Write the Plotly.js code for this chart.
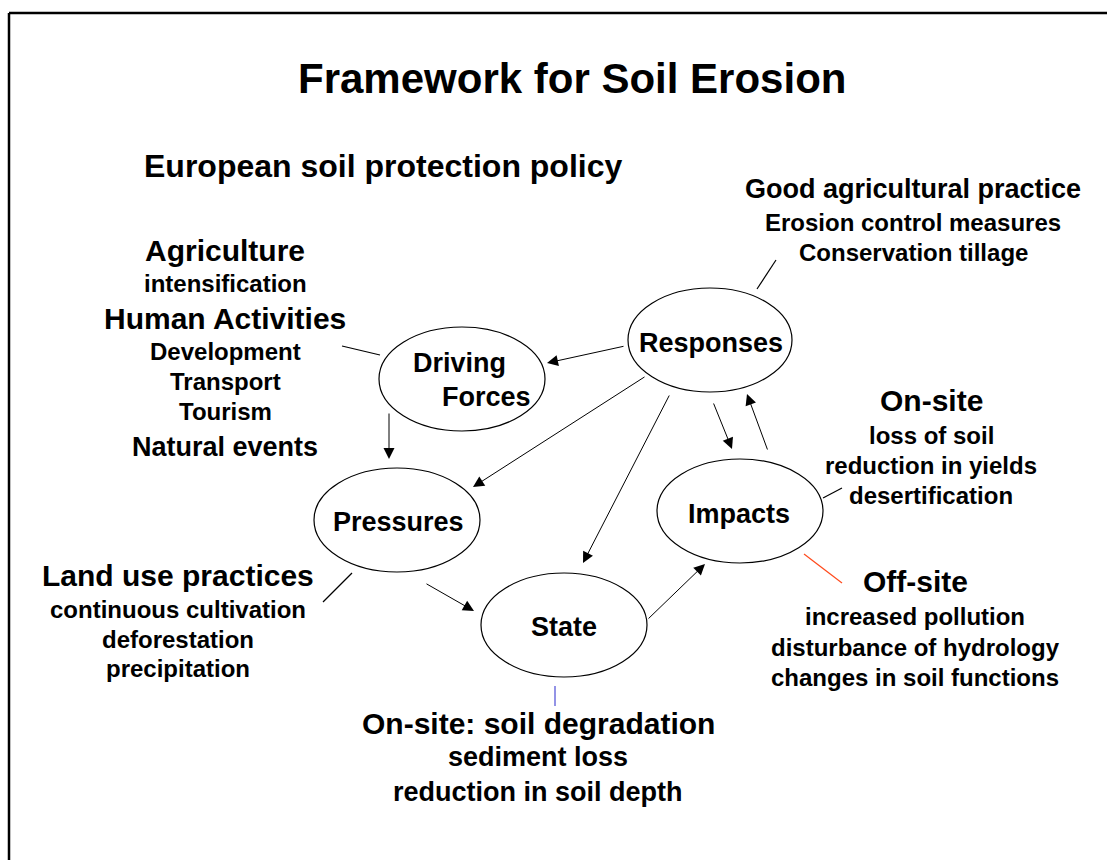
<!DOCTYPE html>
<html>
<head>
<meta charset="utf-8">
<script src="https://cdn.plot.ly/plotly-3.0.1.min.js"></script>
<style>html,body{margin:0;padding:0;background:#fff;}#chart{width:1107px;height:860px;}</style>
</head>
<body>
<div id="chart"></div>
<script>
// ---------- content ----------
const chartTitle = "Framework for Soil Erosion";
const policyTitle = "European soil protection policy";
const nodeNames = ["Driving Forces", "Pressures", "State", "Impacts", "Responses"];
const links = [
  ["Responses", "Driving Forces"],
  ["Driving Forces", "Pressures"],
  ["Responses", "Pressures"],
  ["Responses", "State"],
  ["Responses", "Impacts"],
  ["Impacts", "Responses"],
  ["Pressures", "State"],
  ["State", "Impacts"]
];
const drivingText = ["Agriculture", "intensification", "Human Activities", "Development", "Transport", "Tourism", "Natural events"];
const responsesText = ["Good agricultural practice", "Erosion control measures", "Conservation tillage"];
const impactsOnSiteText = ["On-site", "loss of soil", "reduction in yields", "desertification"];
const impactsOffSiteText = ["Off-site", "increased pollution", "disturbance of hydrology", "changes in soil functions"];
const pressuresText = ["Land use practices", "continuous cultivation", "deforestation", "precipitation"];
const stateText = ["On-site: soil degradation", "sediment loss", "reduction in soil depth"];

// ---------- geometry (pixel coordinates of the slide) ----------
const nodeGeom = {
  "Driving Forces": {cx: 462, cy: 379, rx: 83, ry: 52, lines: [[459, 363], [486, 397]]},
  "Pressures":      {cx: 397, cy: 520, rx: 83, ry: 52, lines: [[398, 522]]},
  "State":          {cx: 564, cy: 625, rx: 83, ry: 52, lines: [[564, 627]]},
  "Impacts":        {cx: 740, cy: 511, rx: 83, ry: 52, lines: [[739, 514]]},
  "Responses":      {cx: 710, cy: 340, rx: 82, ry: 52, lines: [[711, 343]]}
};
const linkGeom = [
  [625, 346, 547, 363],
  [389, 412, 389, 459],
  [646, 376, 473, 487],
  [670, 394, 583, 563],
  [713, 402, 732, 449],
  [768, 451, 747, 394],
  [425, 583, 474, 611],
  [647, 620, 705, 564]
];
const connectorGeom = [
  {x0: 342, y0: 346, x1: 380, y1: 355, color: "#000000"},
  {x0: 776, y0: 260, x1: 757, y1: 289, color: "#000000"},
  {x0: 352, y0: 573, x1: 323, y1: 602, color: "#000000"},
  {x0: 823, y0: 498, x1: 842, y1: 488, color: "#000000"},
  {x0: 804, y0: 554, x1: 842, y1: 583, color: "#ff4a1c"},
  {x0: 555, y0: 686, x1: 555, y1: 706, color: "#4b4bd6"}
];
const blocks = [
  {lines: drivingText, x: 225, ys: [250, 283, 318, 351, 381, 411, 447], sizes: [30, 24, 30, 24, 24, 24, 27]},
  {lines: responsesText, x: 913, ys: [189, 222, 252], sizes: [27, 24, 24]},
  {lines: impactsOnSiteText, x: 931, ys: [400, 435, 465, 495], sizes: [30, 24, 24, 24]},
  {lines: impactsOffSiteText, x: 915, ys: [581, 616, 647, 677], sizes: [30, 24, 24, 24]},
  {lines: pressuresText, x: 178, ys: [575, 609, 639, 668], sizes: [30, 24, 24, 24]},
  {lines: stateText, x: 538, ys: [723, 757, 792], sizes: [30, 27, 27]}
];

const FONT = "Liberation Sans, Arial, Helvetica, sans-serif";
const shapes = [];
const annotations = [];

function txt(text, x, y, size) {
  annotations.push({
    text: text, x: x, y: y, xref: "x", yref: "y",
    xanchor: "center", yanchor: "middle", showarrow: false,
    font: {family: FONT, size: size, color: "#000", weight: "bold"}
  });
}

// frame (top and left edges)
shapes.push({type: "line", xref: "x", yref: "y", x0: 9, y0: 13, x1: 1107, y1: 13, line: {color: "#000", width: 2.5}});
shapes.push({type: "line", xref: "x", yref: "y", x0: 9, y0: 13, x1: 9, y1: 860, line: {color: "#000", width: 2.5}});

// titles
txt(chartTitle, 572, 78, 42);
txt(policyTitle, 383, 166, 32);

// nodes
nodeNames.forEach(function (n) {
  const g = nodeGeom[n];
  shapes.push({type: "circle", xref: "x", yref: "y",
    x0: g.cx - g.rx, x1: g.cx + g.rx, y0: g.cy - g.ry, y1: g.cy + g.ry,
    line: {color: "#000", width: 1.2}, fillcolor: "rgba(0,0,0,0)"});
  const parts = g.lines.length === 2 ? n.split(" ") : [n];
  parts.forEach(function (p, i) { txt(p, g.lines[i][0], g.lines[i][1], 27); });
});

// arrows between nodes
links.forEach(function (l, i) {
  const g = linkGeom[i];
  annotations.push({
    text: "", x: g[2], y: g[3], ax: g[0], ay: g[1],
    xref: "x", yref: "y", axref: "x", ayref: "y",
    showarrow: true, arrowhead: 2, arrowsize: 2.2, arrowwidth: 1, arrowcolor: "#000", standoff: 0
  });
});

// plain connector lines
connectorGeom.forEach(function (c) {
  shapes.push({type: "line", xref: "x", yref: "y", x0: c.x0, y0: c.y0, x1: c.x1, y1: c.y1,
    line: {color: c.color, width: 1.2}});
});

// text blocks
blocks.forEach(function (b) {
  b.lines.forEach(function (line, i) { txt(line, b.x, b.ys[i], b.sizes[i]); });
});

const layout = {
  width: 1107, height: 860,
  margin: {l: 0, r: 0, t: 0, b: 0},
  paper_bgcolor: "#fff", plot_bgcolor: "#fff",
  xaxis: {range: [0, 1107], visible: false, fixedrange: true},
  yaxis: {range: [860, 0], visible: false, fixedrange: true},
  showlegend: false,
  shapes: shapes,
  annotations: annotations
};

Plotly.newPlot("chart", [{x: [], y: [], type: "scatter", mode: "markers", hoverinfo: "skip"}], layout, {displayModeBar: false, staticPlot: true});
</script>
</body>
</html>
